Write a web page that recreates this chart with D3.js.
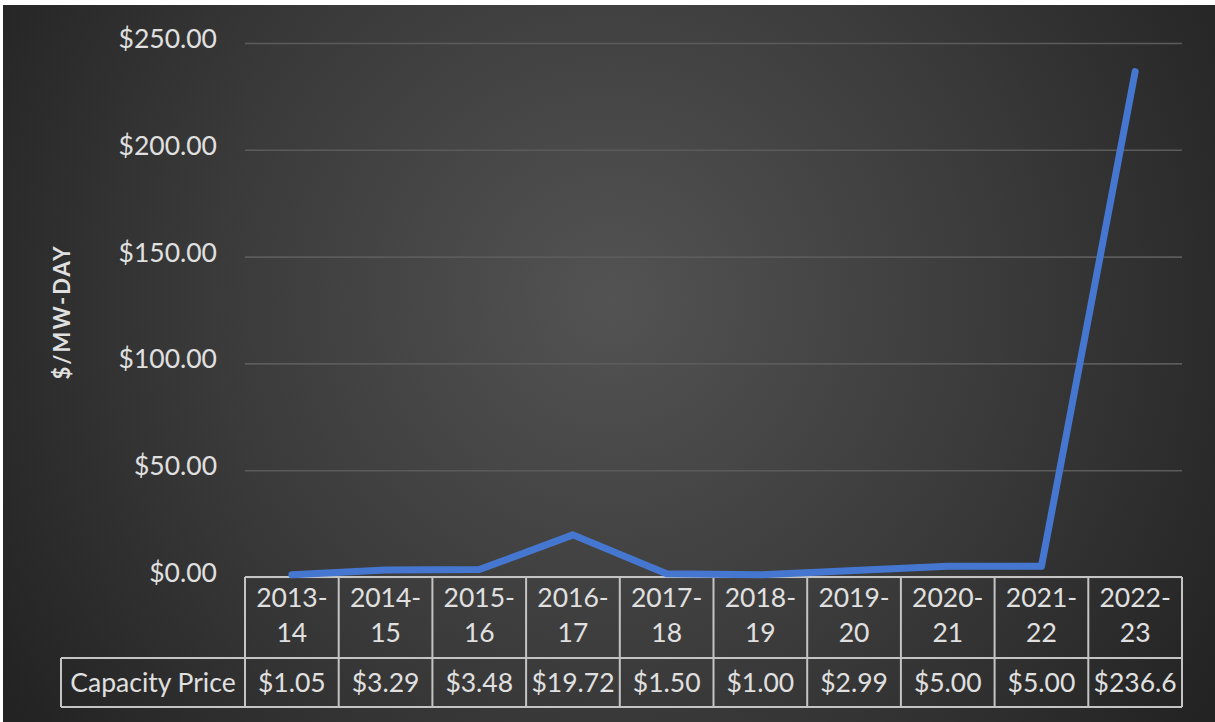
<!DOCTYPE html>
<html>
<head>
<meta charset="utf-8">
<script src="https://cdn.jsdelivr.net/npm/d3@7/dist/d3.min.js"></script>
<style>
  html, body { margin: 0; padding: 0; background: #ffffff; }
  svg { display: block; }
  text { font-family: Lato, "Open Sans", "DejaVu Sans", sans-serif; }
</style>
</head>
<body>
<svg id="chart" width="1215" height="722"></svg>
<script>
// Capacity auction clearing prices by delivery year ($/MW-day)
const yearsTop    = ["2013-", "2014-", "2015-", "2016-", "2017-", "2018-", "2019-", "2020-", "2021-", "2022-"];
const yearsBottom = ["14", "15", "16", "17", "18", "19", "20", "21", "22", "23"];
const prices      = [1.05, 3.29, 3.48, 19.72, 1.50, 1.00, 2.99, 5.00, 5.00, 236.6];
const priceLabels = ["$1.05", "$3.29", "$3.48", "$19.72", "$1.50", "$1.00", "$2.99", "$5.00", "$5.00", "$236.6"];
const yTicks      = [0, 50, 100, 150, 200, 250];
const seriesName  = "Capacity Price";
const axisTitle   = "$/MW-DAY";

const W = 1215, H = 722;
const plot = { left: 245, right: 1182, top: 43, bottom: 577 };
const tableRow1 = 81, tableRow2 = 49, tableLeft = 61;
const fontSize = 26.5;
const textColor = "#e0e0e0";
const gridColor = "#5b5b5b";
const borderColor = "#c4c4c4";
const lineColor = "#4677d0";

const svg = d3.select("#chart");

// background with a soft radial glow
const defs = svg.append("defs");
const grad = defs.append("radialGradient")
  .attr("id", "bg")
  .attr("gradientUnits", "userSpaceOnUse")
  .attr("cx", 610).attr("cy", 300).attr("r", 720);
grad.append("stop").attr("offset", "0%").attr("stop-color", "#535353");
grad.append("stop").attr("offset", "55%").attr("stop-color", "#3a3a3a");
grad.append("stop").attr("offset", "100%").attr("stop-color", "#232323");

svg.append("rect").attr("width", W).attr("height", H).attr("fill", "#ffffff");
svg.append("rect").attr("x", 3).attr("y", 5).attr("width", W - 3).attr("height", H - 5).attr("fill", "url(#bg)");

// scales
const x = d3.scaleBand().domain(d3.range(prices.length)).range([plot.left, plot.right]).paddingInner(0).paddingOuter(0);
const y = d3.scaleLinear().domain([0, 250]).range([plot.bottom, plot.top]);

// value axis with gridlines
const yAxis = d3.axisLeft(y)
  .tickValues(yTicks)
  .tickSize(-(plot.right - plot.left))
  .tickPadding(28)
  .tickFormat(d3.format("$,.2f"));

const gy = svg.append("g")
  .attr("transform", `translate(${plot.left},0)`)
  .call(yAxis);
gy.select(".domain").remove();
gy.selectAll(".tick line").attr("stroke", gridColor).attr("stroke-width", 1.6);
gy.selectAll(".tick text")
  .attr("fill", textColor)
  .attr("font-size", fontSize)
  .attr("dy", "0.17em")
  .style("font-family", "Lato, 'Open Sans', sans-serif");

// axis title
svg.append("text")
  .attr("transform", "translate(70,312) rotate(-90)")
  .attr("text-anchor", "middle")
  .attr("fill", textColor)
  .attr("font-size", 22)
  .attr("font-weight", "bold")
  .attr("letter-spacing", 2)
  .text(axisTitle);

// data table under the plot
const table = svg.append("g");
const t0 = plot.bottom, t1 = plot.bottom + tableRow1, t2 = t1 + tableRow2;
const border = (x1, y1, x2, y2) => table.append("line")
  .attr("x1", x1).attr("y1", y1).attr("x2", x2).attr("y2", y2)
  .attr("stroke", borderColor).attr("stroke-width", 2);

border(plot.left, t0, plot.right, t0);
border(tableLeft, t1, plot.right, t1);
border(tableLeft, t2, plot.right, t2);
border(tableLeft, t1, tableLeft, t2);
d3.range(prices.length + 1).forEach(i => {
  const xx = i < prices.length ? x(i) : plot.right;
  border(xx, t0, xx, t2);
});

const cells = table.selectAll("g.cell").data(prices.map((p, i) => i)).join("g").attr("class", "cell");
cells.append("text")
  .attr("x", i => x(i) + x.bandwidth() / 2)
  .attr("y", t0 + 30)
  .attr("text-anchor", "middle")
  .attr("fill", textColor)
  .attr("font-size", fontSize)
  .text(i => yearsTop[i]);
cells.append("text")
  .attr("x", i => x(i) + x.bandwidth() / 2)
  .attr("y", t0 + 65)
  .attr("text-anchor", "middle")
  .attr("fill", textColor)
  .attr("font-size", fontSize)
  .text(i => yearsBottom[i]);
cells.append("text")
  .attr("x", i => x(i) + x.bandwidth() / 2)
  .attr("y", t1 + 34)
  .attr("text-anchor", "middle")
  .attr("fill", textColor)
  .attr("font-size", fontSize)
  .text(i => priceLabels[i]);

table.append("text")
  .attr("x", (tableLeft + plot.left) / 2)
  .attr("y", t1 + 34)
  .attr("text-anchor", "middle")
  .attr("fill", textColor)
  .attr("font-size", fontSize)
  .text(seriesName);

// price line
const line = d3.line()
  .x((d, i) => x(i) + x.bandwidth() / 2)
  .y(d => y(d));

svg.append("path")
  .datum(prices)
  .attr("d", line)
  .attr("fill", "none")
  .attr("stroke", lineColor)
  .attr("stroke-width", 7)
  .attr("stroke-linejoin", "round")
  .attr("stroke-linecap", "round");
</script>
</body>
</html>
